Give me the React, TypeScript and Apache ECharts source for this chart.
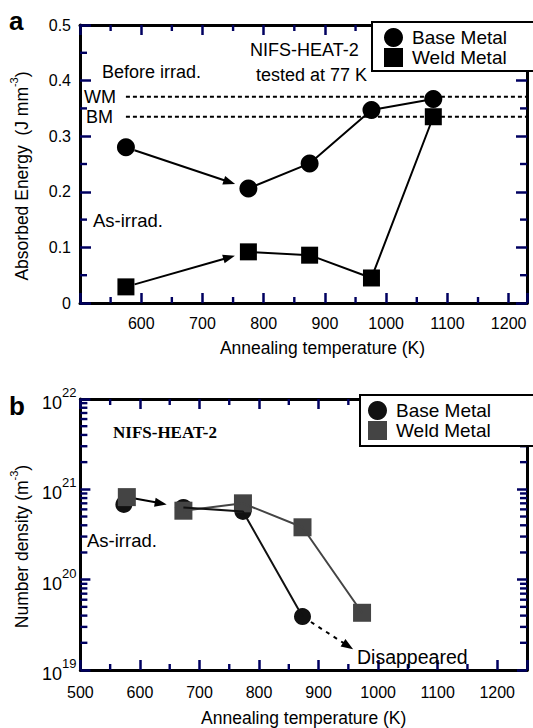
import React, { useEffect, useRef } from 'react';
import * as echarts from 'echarts';

const FONT = "'Liberation Sans', Arial, Helvetica, sans-serif";
const SERIF = "'Liberation Serif', 'Times New Roman', serif";

// ---------- Panel a (absorbed energy) ----------
const aTemps = [575, 775, 875, 976, 1077];
const aBase = [0.28, 0.206, 0.251, 0.347, 0.367];
const aWeld = [0.029, 0.092, 0.086, 0.045, 0.335];
const aRefWM = 0.371;
const aRefBM = 0.335;
const aRefStart = 575;
const aXMin = 500;
const aXMax = 1230;
const aMinorX = [550, 650, 750, 850, 950, 1050, 1150];
const aMinorY = [0.05, 0.15, 0.25, 0.35, 0.45];

// ---------- Panel b (number density) ----------
const bBaseTemps = [573, 673, 773, 873];
const bBase = [6.8e20, 6.3e20, 5.7e20, 3.9e19];
const bWeldTemps = [578, 673, 773, 873, 973];
const bWeld = [8.2e20, 5.8e20, 7.0e20, 3.8e20, 4.3e19];
const bDisappeared = [[873, 3.9e19], [958, 1.7e19]];
const bXMin = 500;
const bXMax = 1250;
const bMinorX = [550, 650, 750, 850, 950, 1050, 1150];
const bDecades = [19, 20, 21];
const bMantissas = [2, 3, 4, 5, 6, 7, 8, 9];

const TICK_C = '#000060';

const pts = (xs: number[], ys: number[]) => xs.map((x, i) => [x, ys[i]]);

const mkAxisLine = () => ({ show: true, onZero: false, lineStyle: { color: '#000', width: 3 } });
const mkTick = (len: number) => ({ show: true, inside: true, length: len, lineStyle: { color: TICK_C, width: 2.5 } });

function xTickRects(xi: number, yi: number, values: number[], yRef: number, len: number) {
  return {
    type: 'custom', xAxisIndex: xi, yAxisIndex: yi, silent: true, z: 5, clip: false,
    data: values.map((v) => [v, yRef]),
    renderItem: (params: any, api: any) => {
      const cs = params.coordSys;
      const p = api.coord([api.value(0), api.value(1)]);
      const top = cs.y, bot = cs.y + cs.height;
      const st = { fill: TICK_C };
      return {
        type: 'group', children: [
          { type: 'rect', shape: { x: p[0] - 1.2, y: bot - len, width: 2.4, height: len }, style: st },
          { type: 'rect', shape: { x: p[0] - 1.2, y: top, width: 2.4, height: len }, style: st },
        ],
      };
    },
  };
}

function yTickRects(xi: number, yi: number, values: number[], xRef: number, len: number) {
  return {
    type: 'custom', xAxisIndex: xi, yAxisIndex: yi, silent: true, z: 5, clip: false,
    data: values.map((v) => [xRef, v]),
    renderItem: (params: any, api: any) => {
      const cs = params.coordSys;
      const p = api.coord([api.value(0), api.value(1)]);
      const l = cs.x, r = cs.x + cs.width;
      const st = { fill: TICK_C };
      return {
        type: 'group', children: [
          { type: 'rect', shape: { x: l, y: p[1] - 1.2, width: len, height: 2.4 }, style: st },
          { type: 'rect', shape: { x: r - len, y: p[1] - 1.2, width: len, height: 2.4 }, style: st },
        ],
      };
    },
  };
}

function arrowSeries(xi: number, yi: number, segs: number[][][], gapStart: number, gapEnd: number, dashed: boolean) {
  return {
    type: 'custom', xAxisIndex: xi, yAxisIndex: yi, silent: true, z: 2,
    encode: { x: [0, 2], y: [1, 3] },
    data: segs.map((s) => [s[0][0], s[0][1], s[1][0], s[1][1]]),
    renderItem: (params: any, api: any) => {
      const a = api.coord([api.value(0), api.value(1)]);
      const b = api.coord([api.value(2), api.value(3)]);
      const dx = b[0] - a[0], dy = b[1] - a[1];
      const L = Math.hypot(dx, dy) || 1;
      const ux = dx / L, uy = dy / L;
      const nx = -uy, ny = ux;
      const s = [a[0] + ux * gapStart, a[1] + uy * gapStart];
      const e = [b[0] - ux * gapEnd, b[1] - uy * gapEnd];
      const hl = 12, hw = 4.5;
      const base = [e[0] - ux * hl, e[1] - uy * hl];
      return {
        type: 'group', children: [
          { type: 'line', shape: { x1: s[0], y1: s[1], x2: base[0] + ux * 2, y2: base[1] + uy * 2 },
            style: { stroke: '#000', lineWidth: 2, lineDash: dashed ? [4, 5] : null } },
          { type: 'polygon', shape: { points: [e, [base[0] + nx * hw, base[1] + ny * hw], [base[0] - nx * hw, base[1] - ny * hw]] },
            style: { fill: '#000' } },
        ],
      };
    },
  };
}

const bLogMinors: number[] = [];
bDecades.forEach((d) => bMantissas.forEach((m) => bLogMinors.push(m * Math.pow(10, d))));

const txt = (text: string, x: number, y: number, fontSize: number, extra: any = {}) => ({
  type: 'text', x, y, z: 10,
  style: { text, fontSize, fontFamily: FONT, fill: '#000', align: 'left', verticalAlign: 'middle', ...extra },
});

const legendBase = () => ({
  orient: 'vertical', itemGap: 1, itemWidth: 19, itemHeight: 19,
  borderColor: '#000', borderWidth: 2, backgroundColor: '#fff', z: 6,
  textStyle: { fontSize: 19, color: '#000', fontFamily: FONT, padding: [0, 0, 0, 4] },
});

const option: any = {
  animation: false,
  backgroundColor: '#fff',
  textStyle: { fontFamily: FONT },
  grid: [
    { left: 78, top: 25, width: 449, height: 278 },
    { left: 80, top: 399, width: 447, height: 275 },
  ],
  legend: [
    { ...legendBase(), left: 372, top: 22, padding: [6, 30, 4, 12], data: ['Base Metal', 'Weld Metal'] },
    {
      ...legendBase(), left: 360, top: 395, padding: [6, 48, 6, 8], data: ['bBase', 'bWeld'],
      formatter: (n: string) => (n === 'bBase' ? 'Base Metal' : 'Weld Metal'),
    },
  ],
  xAxis: [
    {
      gridIndex: 0, type: 'value', position: 'bottom', min: aXMin, max: aXMax, interval: 100,
      axisLine: mkAxisLine(), axisTick: mkTick(10), splitLine: { show: false },
      axisLabel: { fontSize: 16, color: '#000', margin: 12, formatter: (v: number) => (v >= 600 && v <= 1200 ? String(v) : '') },
      name: 'Annealing temperature (K)', nameLocation: 'middle', nameGap: 36,
      nameTextStyle: { fontSize: 17.5, color: '#000', padding: [0, 0, 0, 38] },
    },
    {
      gridIndex: 0, type: 'value', position: 'top', min: aXMin, max: aXMax, interval: 100,
      axisLine: mkAxisLine(), axisTick: mkTick(10), axisLabel: { show: false }, splitLine: { show: false },
    },
    {
      gridIndex: 1, type: 'value', position: 'bottom', min: bXMin, max: bXMax, interval: 100,
      axisLine: mkAxisLine(), axisTick: mkTick(10), splitLine: { show: false },
      axisLabel: { fontSize: 16, color: '#000', margin: 14, formatter: (v: number) => (v <= 1200 ? String(v) : '') },
      name: 'Annealing temperature (K)', nameLocation: 'middle', nameGap: 39,
      nameTextStyle: { fontSize: 17.5, color: '#000' },
    },
    {
      gridIndex: 1, type: 'value', position: 'top', min: bXMin, max: bXMax, interval: 100,
      axisLine: mkAxisLine(), axisTick: mkTick(10), axisLabel: { show: false }, splitLine: { show: false },
    },
  ],
  yAxis: [
    {
      gridIndex: 0, type: 'value', position: 'left', min: 0, max: 0.5, interval: 0.1,
      axisLine: mkAxisLine(), axisTick: mkTick(11), splitLine: { show: false },
      axisLabel: { fontSize: 16, color: '#000', margin: 9, padding: [7, 0, 0, 0], formatter: (v: number) => (v === 0 ? '0' : v.toFixed(1)) },
      name: '{t|Absorbed Energy  (J mm}{s|-3}{t|)}', nameLocation: 'middle', nameGap: 49,
      nameTextStyle: {
        color: '#000', fontSize: 17.5, padding: [0, 24, 0, 0],
        rich: { t: { fontSize: 17.5, fontFamily: FONT, padding: [5, 0, 0, 0] }, s: { fontSize: 11, fontFamily: FONT, verticalAlign: 'top' } },
      },
    },
    {
      gridIndex: 0, type: 'value', position: 'right', min: 0, max: 0.5, interval: 0.1,
      axisLine: mkAxisLine(), axisTick: mkTick(11), splitLine: { show: false }, axisLabel: { show: false },
    },
    {
      gridIndex: 1, type: 'log', logBase: 10, position: 'left', min: 1e19, max: 1e22,
      axisLine: mkAxisLine(), axisTick: mkTick(10), splitLine: { show: false },
      axisLabel: {
        color: '#000', margin: 4,
        formatter: (v: number) => `{b|10}{s|${Math.round(Math.log10(v))}}`,
        rich: { b: { fontSize: 18, fontFamily: FONT, padding: [8, 0, 0, 0] }, s: { fontSize: 13, fontFamily: FONT, verticalAlign: 'top' } },
      },
      name: '{t|Number density (m}{s|-3}{t|)}', nameLocation: 'middle', nameGap: 49,
      nameTextStyle: {
        color: '#000', fontSize: 17.5, padding: [0, 24, 0, 0],
        rich: { t: { fontSize: 17.5, fontFamily: FONT, padding: [5, 0, 0, 0] }, s: { fontSize: 11, fontFamily: FONT, verticalAlign: 'top' } },
      },
    },
    {
      gridIndex: 1, type: 'log', logBase: 10, position: 'right', min: 1e19, max: 1e22,
      axisLine: mkAxisLine(), axisTick: mkTick(10), splitLine: { show: false }, axisLabel: { show: false },
    },
  ],
  series: [
    {
      type: 'line', xAxisIndex: 0, yAxisIndex: 0, symbol: 'none', silent: true,
      lineStyle: { color: '#000', width: 2, type: [4, 3] },
      data: [[aRefStart, aRefWM], [aXMax, aRefWM]],
    },
    {
      type: 'line', xAxisIndex: 0, yAxisIndex: 0, symbol: 'none', silent: true,
      lineStyle: { color: '#000', width: 2, type: [4, 3] },
      data: [[aRefStart, aRefBM], [aXMax, aRefBM]],
    },
    {
      type: 'line', xAxisIndex: 0, yAxisIndex: 0, symbol: 'none', silent: true,
      lineStyle: { color: '#000', width: 2 }, data: pts(aTemps, aBase).slice(1),
    },
    {
      type: 'line', xAxisIndex: 0, yAxisIndex: 0, symbol: 'none', silent: true,
      lineStyle: { color: '#000', width: 2 }, data: pts(aTemps, aWeld).slice(1),
    },
    arrowSeries(0, 0, [
      [[aTemps[0], aBase[0]], [aTemps[1], aBase[1]]],
      [[aTemps[0], aWeld[0]], [aTemps[1], aWeld[1]]],
    ], 9, 14, false),
    xTickRects(0, 0, aMinorX, 0.25, 6),
    yTickRects(0, 0, aMinorY, 800, 7),
    {
      name: 'Base Metal', type: 'scatter', xAxisIndex: 0, yAxisIndex: 0, symbol: 'circle', symbolSize: 18,
      itemStyle: { color: '#000', opacity: 1 }, data: pts(aTemps, aBase),
    },
    {
      name: 'Weld Metal', type: 'scatter', xAxisIndex: 0, yAxisIndex: 0, symbol: 'rect', symbolSize: 17,
      itemStyle: { color: '#000', opacity: 1 }, data: pts(aTemps, aWeld),
    },
    {
      type: 'line', xAxisIndex: 2, yAxisIndex: 2, symbol: 'none', silent: true,
      lineStyle: { color: '#444', width: 2 }, data: pts(bWeldTemps, bWeld).slice(1),
    },
    {
      type: 'line', xAxisIndex: 2, yAxisIndex: 2, symbol: 'none', silent: true,
      lineStyle: { color: '#111', width: 2 }, data: pts(bBaseTemps, bBase).slice(1),
    },
    arrowSeries(2, 2, [[[bWeldTemps[0], bWeld[0]], [bBaseTemps[1], bBase[1]]]], 8, 17, false),
    arrowSeries(2, 2, [bDisappeared], 10, 0, true),
    xTickRects(2, 2, bMinorX, 1e20, 6),
    yTickRects(2, 2, bLogMinors, 600, 7),
    {
      name: 'bBase', type: 'scatter', xAxisIndex: 2, yAxisIndex: 2, symbol: 'circle', symbolSize: 17,
      itemStyle: { color: '#111', opacity: 1 }, data: pts(bBaseTemps, bBase),
    },
    {
      name: 'bWeld', type: 'scatter', xAxisIndex: 2, yAxisIndex: 2, symbol: 'rect', symbolSize: 18,
      itemStyle: { color: '#444', opacity: 1 }, data: pts(bWeldTemps, bWeld),
    },
  ],
  graphic: [
    txt('a', 9, 21, 26, { fontWeight: 'bold' }),
    txt('NIFS-HEAT-2', 250, 50, 18),
    txt('tested at 77 K', 256, 75, 18),
    txt('Before irrad.', 102, 72, 18),
    txt('WM', 84, 97, 18),
    txt('BM', 86, 117, 18),
    txt('As-irrad.', 93, 220, 18.5),
    txt('b', 9, 406, 26, { fontWeight: 'bold' }),
    txt('NIFS-HEAT-2', 113, 432, 17, { fontWeight: 'bold', fontFamily: SERIF }),
    txt('As-irrad.', 87, 540, 18.5),
    txt('Disappeared', 357, 657, 19.5),
  ],
};

export default function App() {
  const ref = useRef<HTMLDivElement>(null);
  useEffect(() => {
    const chart = echarts.init(ref.current!, null, { renderer: 'svg' });
    chart.setOption(option);
    return () => chart.dispose();
  }, []);
  return (
    <div
      ref={ref}
      style={{ position: 'fixed', left: 0, top: 0, width: 533, height: 728, background: '#fff' }}
    />
  );
}
